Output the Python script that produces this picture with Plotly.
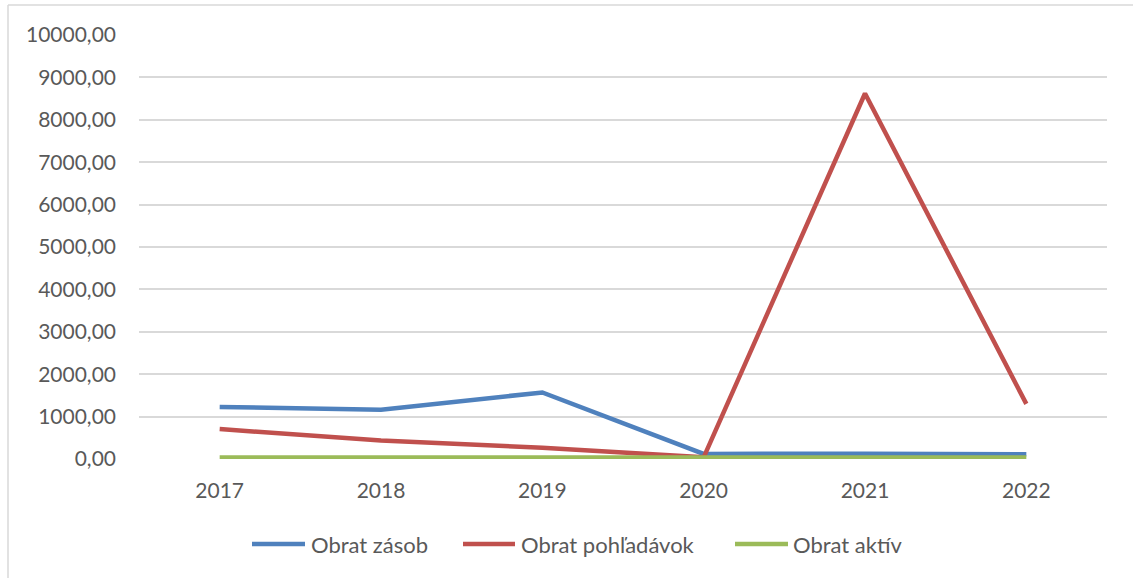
import plotly.graph_objects as go

years = ["2017", "2018", "2019", "2020", "2021", "2022"]
obrat_zasob = [1228, 1160, 1570, 120, 125, 110]
obrat_pohladavok = [705, 435, 265, 40, 8620, 1300]
obrat_aktiv = [35, 35, 35, 35, 35, 35]

series = [
    ("Obrat zásob", obrat_zasob, "#4f81bd"),
    ("Obrat pohľadávok", obrat_pohladavok, "#c0504d"),
    ("Obrat aktív", obrat_aktiv, "#9bbb59"),
]

tick_vals = [0, 1000, 2000, 3000, 4000, 5000, 6000, 7000, 8000, 9000, 10000]
tick_text = ["0,00", "1000,00", "2000,00", "3000,00", "4000,00", "5000,00",
             "6000,00", "7000,00", "8000,00", "9000,00", "10000,00"]

W, H = 1133, 578
L, R, T, B = 139, 26, 35, 119
pw, ph = W - L - R, H - T - B


def px(x):
    return (x - L) / pw


def py(y):
    return (H - B - y) / ph


fig = go.Figure()
for name, vals, color in series:
    fig.add_trace(go.Scatter(
        x=years, y=vals, name=name, mode="lines", cliponaxis=False,
        line=dict(color=color, width=4.5), showlegend=False,
    ))

font = dict(family="Lato, 'Open Sans', sans-serif", size=21, color="#595959")
lfont = dict(family="Lato, 'Open Sans', sans-serif", size=22, color="#595959")

shapes = [
    dict(type="line", xref="paper", yref="paper", x0=px(8), x1=px(8),
         y0=py(5), y1=py(H + 5), line=dict(color="#d9d9d9", width=1.5)),
    dict(type="line", xref="paper", yref="paper", x0=px(8), x1=px(W + 5),
         y0=py(5), y1=py(5), line=dict(color="#d9d9d9", width=1.5)),
]
annotations = []
legend_pos = [(252, 305, 309), (463, 515, 519), (735, 788, 791)]
for (name, _, color), (lx0, lx1, tx) in zip(series, legend_pos):
    shapes.append(dict(type="line", xref="paper", yref="paper",
                       x0=px(lx0), x1=px(lx1), y0=py(544), y1=py(544),
                       line=dict(color=color, width=4.5)))
    annotations.append(dict(xref="paper", yref="paper", x=px(tx), y=py(544),
                            xanchor="left", yanchor="middle", text=name,
                            showarrow=False, font=lfont))

fig.update_layout(
    width=W, height=H,
    margin=dict(l=L, r=R, t=T, b=B),
    paper_bgcolor="white", plot_bgcolor="white",
    font=font,
    showlegend=False,
    xaxis=dict(range=[-0.5, 5.5], showgrid=False, showline=False, zeroline=False,
               ticks="", ticklabelstandoff=17, tickfont=font),
    yaxis=dict(range=[0, 10000], tickvals=tick_vals, ticktext=tick_text,
               showgrid=True, gridcolor="#d9d9d9", gridwidth=1.5,
               zeroline=False, showline=False, ticks="",
               ticklabelstandoff=22, tickfont=font),
    shapes=shapes,
    annotations=annotations,
)

fig.write_html("out.html", config={"displayModeBar": False},
               post_script="document.body.style.margin='0';")
